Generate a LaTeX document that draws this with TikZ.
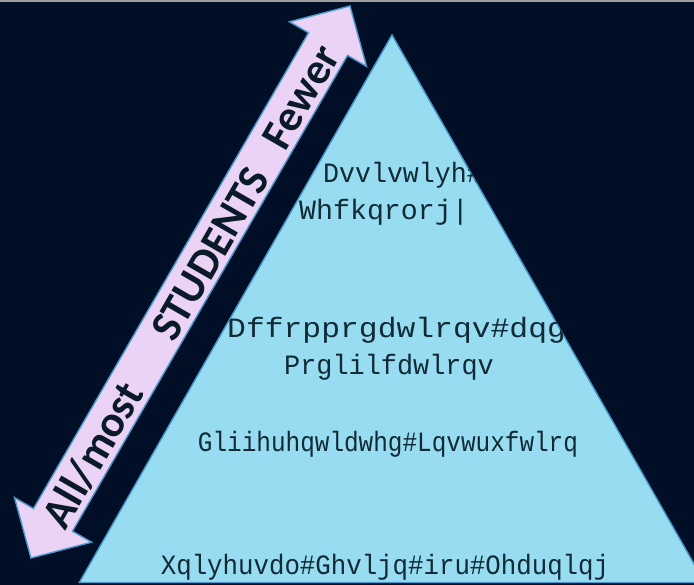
\documentclass[tikz,border=0pt]{standalone}
\usepackage{fontspec}
\newfontfamily\trifont{Liberation Mono}
\newfontfamily\arrfont{Carlito}
\definecolor{bgc}{HTML}{000F25}
\definecolor{trifill}{HTML}{97DCF0}
\definecolor{edgec}{HTML}{4A9AD0}
\definecolor{arrfill}{HTML}{EAD3F5}
\definecolor{tritxt}{HTML}{102A36}
\definecolor{arrtxt}{HTML}{0A1A28}
\begin{document}
\begin{tikzpicture}[x=1pt,y=-1pt,
  tritext/.style={font=\trifont\fontsize{28}{28}\selectfont, text=tritxt, inner sep=0pt},
  arrtext/.style={font=\arrfont\bfseries\fontsize{44}{44}\selectfont, text=arrtxt, rotate=60, inner sep=0pt},
  edgeline/.style={draw=edgec, line width=1.4pt, line join=miter}]
\useasboundingbox (0,0) rectangle (694,585);
\clip (0,0) rectangle (694,585);
\fill[bgc] (0,0) rectangle (694,585);
\fill[gray!75] (0,0) rectangle (694,2);
% triangle
\coordinate (apex) at (392,35);
\coordinate (bl) at (79.4,582.5);
\coordinate (br) at (704.6,582.5);
\filldraw[fill=trifill, edgeline] (apex) -- (bl) -- (br) -- cycle;
% double arrow
\coordinate (tipT) at (350,6);
\coordinate (hT1) at (366.5,66.4);
\coordinate (sT1) at (347.5,55.4);
\coordinate (sB1) at (72.5,531.2);
\coordinate (hB1) at (91.5,542.2);
\coordinate (tipB) at (31,558);
\coordinate (hB2) at (14.5,497.6);
\coordinate (sB2) at (33.5,508.6);
\coordinate (sT2) at (308.5,32.8);
\coordinate (hT2) at (289.5,21.8);
\filldraw[fill=arrfill, edgeline] (tipT) -- (hT1) -- (sT1) -- (sB1) -- (hB1) -- (tipB) -- (hB2) -- (sB2) -- (sT2) -- (hT2) -- cycle;
\node[arrtext] (allmost) at (92.7,455.1) {All/most};
\node[arrtext] (students) at (210.2,253.8) {STUDENTS};
\node[arrtext] (fewer) at (300.8,97.1) {Fewer};
% triangle texts
\begin{scope}
\clip (apex) -- (bl) -- (br) -- cycle;
\node[tritext, anchor=base west, xscale=0.95] (l1) at (323,183) {Dvvlvwlyh\#};
\node[tritext, anchor=base, xscale=1.01] (l2) at (384,220) {Whfkqrorj|};
\node[tritext, anchor=base west, xscale=1.12] (l3) at (227,338) {Dffrpprgdwlrqv\#dqg\#};
\node[tritext, anchor=base, xscale=0.96] (l4) at (389,375) {Prglilfdwlrqv};
\node[tritext, anchor=base, xscale=0.87] (l5) at (388,452) {Gliihuhqwldwhg\#Lqvwuxfwlrq};
\node[tritext, anchor=base, xscale=0.92] (l6) at (385,574) {Xqlyhuvdo\#Ghvljq\#iru\#Ohduqlqj};
\end{scope}
\end{tikzpicture}
\end{document}
